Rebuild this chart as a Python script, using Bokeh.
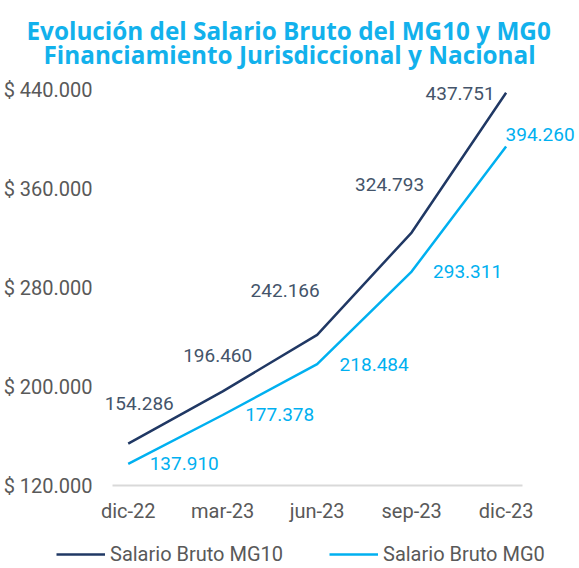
from bokeh.plotting import figure
from bokeh.models import (ColumnDataSource, LabelSet, Legend, LegendItem,
                          FixedTicker, Title, Range1d)
from bokeh.core.properties import value
from bokeh.embed import file_html
from bokeh.resources import INLINE

# ---- data ----
months = ["dic-22", "mar-23", "jun-23", "sep-23", "dic-23"]
mg10 = [154286, 196460, 242166, 324793, 437751]
mg0 = [137910, 177378, 218484, 293311, 394260]
y_ticks = [120000, 200000, 280000, 360000, 440000]
y_tick_labels = ["$ 120.000", "$ 200.000", "$ 280.000", "$ 360.000", "$ 440.000"]
series_names = ["Salario Bruto MG10", "Salario Bruto MG0"]
title_lines = ["Evolución del Salario Bruto del MG10 y MG0",
               "Financiamiento Jurisdiccional y Nacional"]

# ---- styles ----
NAVY = "#203864"
NAVY_TXT = "#44546a"
CYAN = "#00b0f0"
GREY = "#595959"
TITLE_C = "#12b1ec"
mg10_dx = [11, -5, -32, -22, -46]
mg10_dy = [40, 36, 44, 48, -1]
mg0_dx = [56, 57, 57, 56, 34]
mg0_dy = [0, 0, 0, 0, 12]
X_PAD = (-1.352, 0.777)      # frame padding around first/last category (x units)
Y_AXIS_AT = -0.293           # where the value labels sit (x units)
BASE = (-0.163, 4.17)        # extent of the baseline
Y_PAD = (66667, 11717)       # frame padding below / above the tick range

def fmt(v):
    return f"{v:,}".replace(",", ".")

x = list(range(len(months)))
src10 = ColumnDataSource(dict(x=x, y=mg10, t=[fmt(v) for v in mg10], dx=mg10_dx, dy=mg10_dy))
src0 = ColumnDataSource(dict(x=x, y=mg0, t=[fmt(v) for v in mg0], dx=mg0_dx, dy=mg0_dy))

p = figure(width=579, height=568, output_backend="svg", toolbar_location=None,
           title_location=None,
           x_range=Range1d(x[0] + X_PAD[0], x[-1] + X_PAD[1]),
           y_range=Range1d(y_ticks[0] - Y_PAD[0], y_ticks[-1] + Y_PAD[1]),
           min_border_left=0, min_border_right=0, min_border_top=75,
           min_border_bottom=0)
p.outline_line_color = None
p.xgrid.visible = False
p.ygrid.visible = False
p.background_fill_color = "white"
p.border_fill_color = "white"

r10 = p.line("x", "y", source=src10, line_color=NAVY, line_width=2.5)
r0 = p.line("x", "y", source=src0, line_color=CYAN, line_width=2.5)

for src, col in ((src10, NAVY_TXT), (src0, CYAN)):
    p.add_layout(LabelSet(x="x", y="y", text="t", source=src, x_offset="dx", y_offset="dy",
                          text_align="center", text_baseline="middle",
                          text_font=value("Roboto"), text_font_size=value("19px"),
                          text_color=col))

# axes
p.xaxis.fixed_location = y_ticks[0]
p.xaxis.ticker = FixedTicker(ticks=x)
p.xaxis.major_label_overrides = {i: m for i, m in enumerate(months)}
p.xaxis.bounds = BASE
p.xaxis.axis_line_color = "#d9d9d9"
p.xaxis.axis_line_width = 2
p.xaxis.major_tick_line_color = None
p.xaxis.minor_tick_line_color = None
p.xaxis.major_tick_out = 0
p.xaxis.minor_tick_out = 0
p.xaxis.major_label_standoff = 13
p.xaxis.major_label_text_font = "Roboto"
p.xaxis.major_label_text_font_size = "20px"
p.xaxis.major_label_text_color = GREY

p.yaxis.fixed_location = Y_AXIS_AT
p.yaxis.ticker = FixedTicker(ticks=y_ticks)
p.yaxis.major_label_overrides = dict(zip(y_ticks, y_tick_labels))
p.yaxis.axis_line_color = None
p.yaxis.major_tick_line_color = None
p.yaxis.minor_tick_line_color = None
p.yaxis.major_tick_out = 0
p.yaxis.minor_tick_out = 0
p.yaxis.major_label_standoff = 8
p.yaxis.major_label_text_font = "Roboto"
p.yaxis.major_label_text_font_size = "20px"
p.yaxis.major_label_text_color = GREY

# titles (second line added first: nearest the plot)
t2 = Title(text=title_lines[1], align="left", offset=43, standoff=9,
           text_font="Open Sans", text_font_style="bold", text_font_size="24.3px",
           text_color=TITLE_C)
t1 = Title(text=title_lines[0], align="left", offset=26, standoff=-30,
           text_font="Open Sans", text_font_style="bold", text_font_size="24.3px",
           text_color=TITLE_C)
p.add_layout(t2, "above")
p.add_layout(t1, "above")

legend = Legend(items=[LegendItem(label=series_names[0], renderers=[r10]),
                       LegendItem(label=series_names[1], renderers=[r0])],
                orientation="horizontal", location=(56, 2),
                glyph_width=49, glyph_height=20, label_standoff=5,
                label_width=174, spacing=45,
                padding=0, margin=0, border_line_color=None,
                background_fill_alpha=0,
                label_text_font="Roboto", label_text_font_size="20px",
                label_text_color=GREY)
p.add_layout(legend)

open("out.html", "w").write(file_html(p, INLINE))
